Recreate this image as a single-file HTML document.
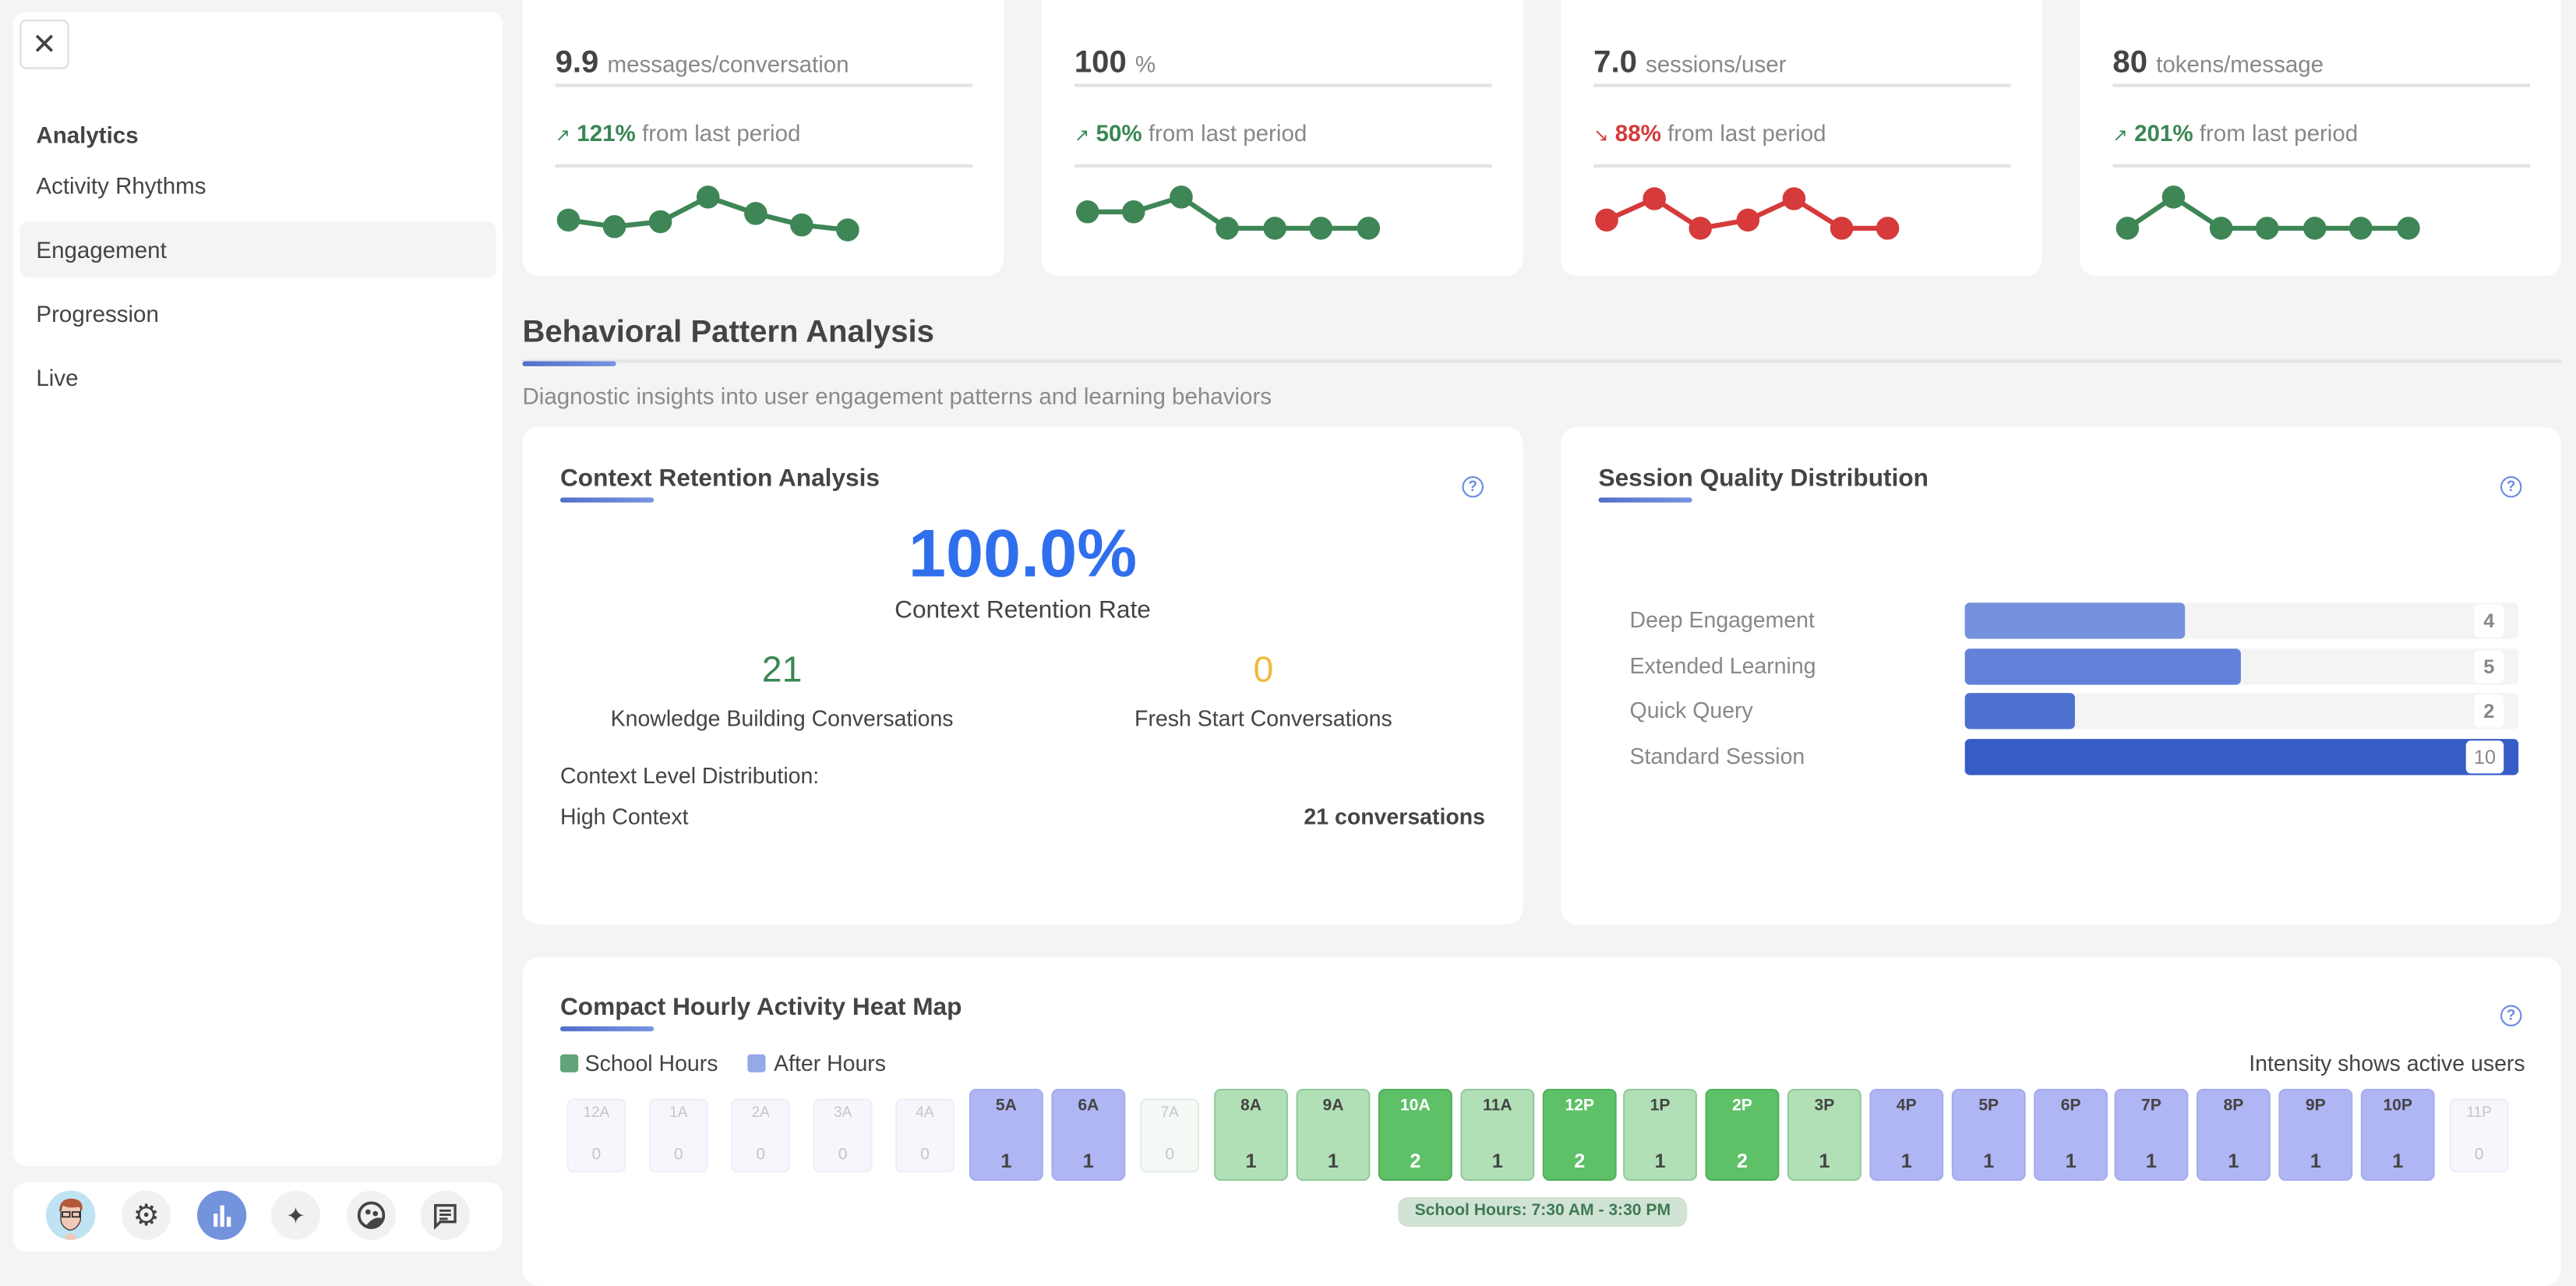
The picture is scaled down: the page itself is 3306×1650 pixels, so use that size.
<!DOCTYPE html>
<html><head><meta charset="utf-8">
<style>
*{margin:0;padding:0;box-sizing:border-box}
html,body{width:3306px;height:1614px;overflow:hidden;background:#f4f4f4}
#s{position:absolute;left:0;top:0;width:1568px;height:766px;transform:scale(2.10842,2.10705);transform-origin:0 0;font-family:"Liberation Sans",sans-serif;color:#444}
.a{position:absolute}
.card{position:absolute;background:#fff;border-radius:10px}
.t{position:absolute;white-space:nowrap}
.hl{position:absolute;height:2px;background:#e3e3e3}
.acc{position:absolute;height:3px;border-radius:2px;background:linear-gradient(90deg,#4f6fcb,#7795df)}
.help{position:absolute;width:13px;height:13px;border:1.5px solid #6a8be0;border-radius:50%;color:#6a8be0;font-size:9px;line-height:10px;text-align:center;font-weight:bold}
.c{position:absolute;border-radius:4px;text-align:center;font-weight:bold}
.c .l{position:absolute;left:0;right:0;font-size:10px}
.c .n{position:absolute;left:0;right:0;font-size:12px}
.on{top:663px;height:56px;width:45px}
.on .l{top:4px}.on .n{top:36px}
.off{top:669px;height:45px;width:36px;color:#c6c6c6;font-weight:normal}
.off .l{top:2px;font-size:9px}.off .n{top:28px;font-size:10px}
.pa{background:#b0b5f3;border:1px solid #a6acee;color:#444}
.pl{background:#b2e0b6;border:1.5px solid #92c99b;color:#444}
.pd{background:#5ec168;border:1.5px solid #50b05b;color:#fff}
.ia{background:#f6f6fd;border:1px solid #eceefa}
.is{background:#f4f9f5;border:1px solid #e2eee5}
.ic{position:absolute;top:725px;width:30px;height:30px;border-radius:50%;background:#f1f1f1}
</style></head><body><div id="s">

<!-- sidebar -->
<div class="card" style="left:8px;top:7px;width:298px;height:703px;border-radius:8px"></div>
<div class="a" style="left:12px;top:12px;width:30px;height:30px;border:1px solid #ddd;border-radius:4px;background:#fff;text-align:center;line-height:28px;font-size:18px;color:#444">✕</div>
<div class="t" style="left:22px;top:74px;font-size:14px;font-weight:bold;color:#444">Analytics</div>
<div class="t" style="left:22px;top:105px;font-size:14px;color:#444">Activity Rhythms</div>
<div class="a" style="left:12px;top:135px;width:290px;height:34px;background:#f4f4f4;border-radius:5px"></div>
<div class="t" style="left:22px;top:144px;font-size:14px;color:#444">Engagement</div>
<div class="t" style="left:22px;top:183px;font-size:14px;color:#444">Progression</div>
<div class="t" style="left:22px;top:222px;font-size:14px;color:#444">Live</div>

<div class="card" style="left:8px;top:720px;width:298px;height:42px;border-radius:8px"></div>
<div class="ic" style="left:28px;background:#bfe3f2"></div>
<svg class="a" style="left:28px;top:725px" width="30" height="30" viewBox="0 0 30 30"><path d="M9 12 Q10 5 17 6 Q22 7 21 13 L21 18 Q19 24 14 24 Q9 22 9 17Z" fill="#f2c9b8" stroke="#333" stroke-width=".6"/><path d="M8 13 Q8 4 17 5 Q23 6 22 12 L20 10 Q14 11 10 9Z" fill="#b5583a"/><rect x="10" y="13" width="4.5" height="3" fill="none" stroke="#222" stroke-width=".8"/><rect x="16" y="13" width="4.5" height="3" fill="none" stroke="#222" stroke-width=".8"/><path d="M12 27 Q15 25 18 27 L18 30 L12 30Z" fill="#f2c9b8"/></svg>
<div class="ic" style="left:74px"></div>
<div class="t" style="left:74px;top:725px;width:30px;text-align:center;line-height:30px;font-size:18px;color:#444">⚙</div>
<div class="ic" style="left:120px;background:#7393dc"></div>
<svg class="a" style="left:120px;top:725px" width="30" height="30"><rect x="10" y="14" width="2.5" height="8" fill="#fff"/><rect x="14" y="9" width="2.5" height="13" fill="#fff"/><rect x="18" y="16" width="2.5" height="6" fill="#fff"/></svg>
<div class="ic" style="left:165px"></div>
<div class="t" style="left:165px;top:725px;width:30px;text-align:center;line-height:30px;font-size:14px;color:#444">✦</div>
<div class="ic" style="left:211px"></div>
<svg class="a" style="left:211px;top:725px" width="30" height="30"><circle cx="15" cy="15" r="7.5" fill="none" stroke="#444" stroke-width="1.8"/><circle cx="13" cy="13" r="1.6" fill="#444"/><circle cx="17.5" cy="14" r="1.6" fill="#444"/><path d="M12 21 Q17 15 22 17 L21 20 Q18 22 15 22Z" fill="#444"/></svg>
<div class="ic" style="left:256px"></div>
<svg class="a" style="left:256px;top:725px" width="30" height="30"><path d="M9 9 H21 V19 H12 L9 22Z" fill="none" stroke="#444" stroke-width="1.6"/><rect x="11.5" y="11.5" width="7" height="1.4" fill="#444"/><rect x="11.5" y="14" width="7" height="1.4" fill="#444"/><rect x="11.5" y="16.5" width="5" height="1.4" fill="#444"/></svg>

<!-- top cards -->
<div class="card" style="left:318px;top:-10px;width:293px;height:178px"></div>
<div class="card" style="left:634px;top:-10px;width:293px;height:178px"></div>
<div class="card" style="left:950px;top:-10px;width:293px;height:178px"></div>
<div class="card" style="left:1266px;top:-10px;width:293px;height:178px"></div>

<div class="t" style="left:338px;top:28px;font-size:19px;font-weight:bold;color:#444">9.9 <span style="font-size:14px;font-weight:normal;color:#888">messages/conversation</span></div>
<div class="t" style="left:654px;top:28px;font-size:19px;font-weight:bold;color:#444">100 <span style="font-size:14px;font-weight:normal;color:#888">%</span></div>
<div class="t" style="left:970px;top:28px;font-size:19px;font-weight:bold;color:#444">7.0 <span style="font-size:14px;font-weight:normal;color:#888">sessions/user</span></div>
<div class="t" style="left:1286px;top:28px;font-size:19px;font-weight:bold;color:#444">80 <span style="font-size:14px;font-weight:normal;color:#888">tokens/message</span></div>

<div class="hl" style="left:338px;top:51px;width:254px"></div>
<div class="hl" style="left:654px;top:51px;width:254px"></div>
<div class="hl" style="left:970px;top:51px;width:254px"></div>
<div class="hl" style="left:1286px;top:51px;width:254px"></div>
<div class="hl" style="left:338px;top:100px;width:254px"></div>
<div class="hl" style="left:654px;top:100px;width:254px"></div>
<div class="hl" style="left:970px;top:100px;width:254px"></div>
<div class="hl" style="left:1286px;top:100px;width:254px"></div>

<div class="t" style="left:338px;top:73px;font-size:14px;color:#888"><span style="color:#3a8655;font-size:11px">↗</span> <b style="color:#3a8655">121%</b> from last period</div>
<div class="t" style="left:654px;top:73px;font-size:14px;color:#888"><span style="color:#3a8655;font-size:11px">↗</span> <b style="color:#3a8655">50%</b> from last period</div>
<div class="t" style="left:970px;top:73px;font-size:14px;color:#888"><span style="color:#d63a3a;font-size:11px">↘</span> <b style="color:#d63a3a">88%</b> from last period</div>
<div class="t" style="left:1286px;top:73px;font-size:14px;color:#888"><span style="color:#3a8655;font-size:11px">↗</span> <b style="color:#3a8655">201%</b> from last period</div>

<svg class="a" style="left:0;top:0" width="1568" height="170">
<g fill="#3f8656" stroke="#3f8656" stroke-width="3">
<polyline fill="none" points="346,134 374,138 402,135 431,120 460,130 488,137 516,140"/>
<circle cx="346" cy="134" r="5.5"/><circle cx="374" cy="138" r="5.5"/><circle cx="402" cy="135" r="5.5"/><circle cx="431" cy="120" r="5.5"/><circle cx="460" cy="130" r="5.5"/><circle cx="488" cy="137" r="5.5"/><circle cx="516" cy="140" r="5.5"/>
<polyline fill="none" points="662,129 690,129 719,120 747,139 776,139 804,139 833,139"/>
<circle cx="662" cy="129" r="5.5"/><circle cx="690" cy="129" r="5.5"/><circle cx="719" cy="120" r="5.5"/><circle cx="747" cy="139" r="5.5"/><circle cx="776" cy="139" r="5.5"/><circle cx="804" cy="139" r="5.5"/><circle cx="833" cy="139" r="5.5"/>
<polyline fill="none" points="1295,139 1323,120 1352,139 1380,139 1409,139 1437,139 1466,139"/>
<circle cx="1295" cy="139" r="5.5"/><circle cx="1323" cy="120" r="5.5"/><circle cx="1352" cy="139" r="5.5"/><circle cx="1380" cy="139" r="5.5"/><circle cx="1409" cy="139" r="5.5"/><circle cx="1437" cy="139" r="5.5"/><circle cx="1466" cy="139" r="5.5"/>
</g>
<g fill="#d63a3a" stroke="#d63a3a" stroke-width="3">
<polyline fill="none" points="978,134 1007,121 1035,139 1064,134 1092,121 1121,139 1149,139"/>
<circle cx="978" cy="134" r="5.5"/><circle cx="1007" cy="121" r="5.5"/><circle cx="1035" cy="139" r="5.5"/><circle cx="1064" cy="134" r="5.5"/><circle cx="1092" cy="121" r="5.5"/><circle cx="1121" cy="139" r="5.5"/><circle cx="1149" cy="139" r="5.5"/>
</g>
</svg>

<!-- section header -->
<div class="t" style="left:318px;top:192px;font-size:19px;font-weight:bold;color:#444">Behavioral Pattern Analysis</div>
<div class="hl" style="left:318px;top:219px;width:1241px;height:1.5px"></div>
<div class="acc" style="left:318px;top:220px;width:57px"></div>
<div class="t" style="left:318px;top:233px;font-size:14px;color:#8a8a8a">Diagnostic insights into user engagement patterns and learning behaviors</div>

<!-- context card -->
<div class="card" style="left:318px;top:260px;width:609px;height:303px"></div>
<div class="t" style="left:341px;top:283px;font-size:15px;font-weight:bold;color:#444">Context Retention Analysis</div>
<div class="acc" style="left:341px;top:303px;width:57px"></div>
<div class="help" style="left:890px;top:290px">?</div>
<div class="t" style="left:318px;width:609px;text-align:center;top:314px;font-size:41px;font-weight:bold;color:#2f6fed">100.0%</div>
<div class="t" style="left:318px;width:609px;text-align:center;top:363px;font-size:15px;color:#444">Context Retention Rate</div>
<div class="t" style="left:376px;width:200px;text-align:center;top:395px;font-size:22px;color:#3a8655">21</div>
<div class="t" style="left:669px;width:200px;text-align:center;top:395px;font-size:22px;color:#f0b93a">0</div>
<div class="t" style="left:326px;width:300px;text-align:center;top:430px;font-size:13.5px;color:#444">Knowledge Building Conversations</div>
<div class="t" style="left:619px;width:300px;text-align:center;top:430px;font-size:13.5px;color:#444">Fresh Start Conversations</div>
<div class="t" style="left:341px;top:465px;font-size:13.5px;color:#444">Context Level Distribution:</div>
<div class="t" style="left:341px;top:490px;font-size:13.5px;color:#444">High Context</div>
<div class="t" style="left:604px;width:300px;text-align:right;top:490px;font-size:13.5px;font-weight:bold;color:#444">21 conversations</div>

<!-- session card -->
<div class="card" style="left:950px;top:260px;width:609px;height:303px"></div>
<div class="t" style="left:973px;top:283px;font-size:15px;font-weight:bold;color:#444">Session Quality Distribution</div>
<div class="acc" style="left:973px;top:303px;width:57px"></div>
<div class="help" style="left:1522px;top:290px">?</div>

<div class="t" style="left:992px;top:370px;font-size:13.5px;color:#888">Deep Engagement</div>
<div class="t" style="left:992px;top:398px;font-size:13.5px;color:#888">Extended Learning</div>
<div class="t" style="left:992px;top:425px;font-size:13.5px;color:#888">Quick Query</div>
<div class="t" style="left:992px;top:453px;font-size:13.5px;color:#888">Standard Session</div>

<div class="a" style="left:1196px;top:367px;width:337px;height:22px;background:#f4f4f4;border-radius:3px"></div>
<div class="a" style="left:1196px;top:367px;width:134px;height:22px;background:#7592dc;border-radius:3px"></div>
<div class="a" style="left:1196px;top:395px;width:337px;height:22px;background:#f4f4f4;border-radius:3px"></div>
<div class="a" style="left:1196px;top:395px;width:168px;height:22px;background:#6381d8;border-radius:3px"></div>
<div class="a" style="left:1196px;top:422px;width:337px;height:22px;background:#f4f4f4;border-radius:3px"></div>
<div class="a" style="left:1196px;top:422px;width:67px;height:22px;background:#4e70cf;border-radius:3px"></div>
<div class="a" style="left:1196px;top:450px;width:337px;height:22px;background:#385cc6;border-radius:3px"></div>
<div class="a" style="left:1506px;top:368px;width:18px;height:20px;background:#fff;border-radius:3px;text-align:center;line-height:20px;font-size:12px;font-weight:bold;color:#888">4</div>
<div class="a" style="left:1506px;top:396px;width:18px;height:20px;background:#fff;border-radius:3px;text-align:center;line-height:20px;font-size:12px;font-weight:bold;color:#888">5</div>
<div class="a" style="left:1506px;top:423px;width:18px;height:20px;background:#fff;border-radius:3px;text-align:center;line-height:20px;font-size:12px;font-weight:bold;color:#888">2</div>
<div class="a" style="left:1501px;top:451px;width:23px;height:20px;background:#fff;border-radius:3px;text-align:center;line-height:20px;font-size:12px;color:#888">10</div>

<!-- heatmap card -->
<div class="card" style="left:318px;top:583px;width:1241px;height:200px"></div>
<div class="t" style="left:341px;top:605px;font-size:15px;font-weight:bold;color:#444">Compact Hourly Activity Heat Map</div>
<div class="acc" style="left:341px;top:625px;width:57px"></div>
<div class="help" style="left:1522px;top:612px">?</div>
<div class="a" style="left:341px;top:642px;width:11px;height:11px;background:#63a37a;border-radius:2px"></div>
<div class="t" style="left:356px;top:640px;font-size:13.5px;color:#444">School Hours</div>
<div class="a" style="left:455px;top:642px;width:11px;height:11px;background:#93a9e8;border-radius:2px"></div>
<div class="t" style="left:471px;top:640px;font-size:13.5px;color:#444">After Hours</div>
<div class="t" style="left:1237px;width:300px;text-align:right;top:640px;font-size:13.5px;color:#444">Intensity shows active users</div>

<div class="c off ia" style="left:345px"><div class="l">12A</div><div class="n">0</div></div>
<div class="c off ia" style="left:395px"><div class="l">1A</div><div class="n">0</div></div>
<div class="c off ia" style="left:445px"><div class="l">2A</div><div class="n">0</div></div>
<div class="c off ia" style="left:495px"><div class="l">3A</div><div class="n">0</div></div>
<div class="c off ia" style="left:545px"><div class="l">4A</div><div class="n">0</div></div>
<div class="c on pa" style="left:590px"><div class="l">5A</div><div class="n">1</div></div>
<div class="c on pa" style="left:640px"><div class="l">6A</div><div class="n">1</div></div>
<div class="c off is" style="left:694px"><div class="l">7A</div><div class="n">0</div></div>
<div class="c on pl" style="left:739px"><div class="l">8A</div><div class="n">1</div></div>
<div class="c on pl" style="left:789px"><div class="l">9A</div><div class="n">1</div></div>
<div class="c on pd" style="left:839px"><div class="l">10A</div><div class="n">2</div></div>
<div class="c on pl" style="left:889px"><div class="l">11A</div><div class="n">1</div></div>
<div class="c on pd" style="left:939px"><div class="l">12P</div><div class="n">2</div></div>
<div class="c on pl" style="left:988px"><div class="l">1P</div><div class="n">1</div></div>
<div class="c on pd" style="left:1038px"><div class="l">2P</div><div class="n">2</div></div>
<div class="c on pl" style="left:1088px"><div class="l">3P</div><div class="n">1</div></div>
<div class="c on pa" style="left:1138px"><div class="l">4P</div><div class="n">1</div></div>
<div class="c on pa" style="left:1188px"><div class="l">5P</div><div class="n">1</div></div>
<div class="c on pa" style="left:1238px"><div class="l">6P</div><div class="n">1</div></div>
<div class="c on pa" style="left:1287px"><div class="l">7P</div><div class="n">1</div></div>
<div class="c on pa" style="left:1337px"><div class="l">8P</div><div class="n">1</div></div>
<div class="c on pa" style="left:1387px"><div class="l">9P</div><div class="n">1</div></div>
<div class="c on pa" style="left:1437px"><div class="l">10P</div><div class="n">1</div></div>
<div class="c off ia" style="left:1491px"><div class="l">11P</div><div class="n">0</div></div>

<div class="a" style="left:851px;top:729px;width:176px;height:18px;background:#d0e3d5;border-radius:6px;text-align:center;line-height:18px;font-size:10px;font-weight:bold;color:#3f7a52">School Hours: 7:30 AM - 3:30 PM</div>

</div></body></html>
